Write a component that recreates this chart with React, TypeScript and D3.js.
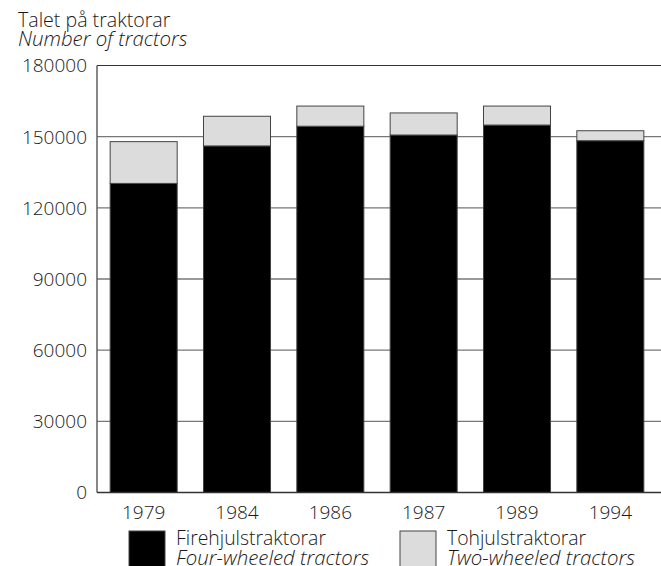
import React from "react";
import * as d3 from "d3";

const years = ["1979", "1984", "1986", "1987", "1989", "1994"];
const fourWheeled = [130300, 146100, 154400, 150700, 154900, 148300];
const twoWheeled = [17600, 12500, 8500, 9300, 8000, 4200];
const yTicks = [0, 30000, 60000, 90000, 120000, 150000, 180000];
const titleNo = "Talet på traktorar";
const titleEn = "Number of tractors";
const legendNo = ["Firehjulstraktorar", "Tohjulstraktorar"];
const legendEn = ["Four-wheeled tractors", "Two-wheeled tractors"];

const W = 661;
const H = 566;
const FONT = "'Open Sans', 'Noto Sans', sans-serif";

export default function App() {
  const x = d3
    .scaleBand<string>()
    .domain(years)
    .range([97, 657])
    .paddingInner(0.282)
    .paddingOuter(0.141);
  const y = d3.scaleLinear().domain([0, 180000]).range([492.5, 65.5]);

  const rows = years.map((yr, i) => ({ year: yr, four: fourWheeled[i], two: twoWheeled[i] }));
  const stack = d3.stack<any>().keys(["four", "two"])(rows);
  const fills = ["#000000", "#dcdcdc"];

  return (
    <svg
      width={W}
      height={H}
      style={{ position: "absolute", left: 0, top: 0, background: "#fff" }}
      fontFamily={FONT}
      fontWeight={300}
    >
      <rect x={0} y={0} width={W} height={H} fill="#fff" />
      <text x={18} y={26.5} fontSize={19.6} fill="#1a1a1a">{titleNo}</text>
      <text x={18} y={46} fontSize={20.4} fontStyle="italic" fill="#1a1a1a">{titleEn}</text>

      {yTicks.map((t) => (
        <g key={t}>
          {t > 0 && (
            <line
              x1={97}
              x2={661}
              y1={y(t)}
              y2={y(t)}
              stroke={t === 180000 ? "#333" : "#777"}
              strokeWidth={t === 180000 ? 1.2 : 1.4}
            />
          )}
          <text
            x={87}
            y={y(t)}
            dy="0.36em"
            textAnchor="end"
            fontSize={19}
            fill="#1a1a1a"
          >
            {t}
          </text>
        </g>
      ))}

      {stack.map((layer, li) => (
        <g key={li}>
          {layer.map((d: any, i: number) => (
            <rect
              key={i}
              x={x(years[i])}
              width={x.bandwidth()}
              y={y(d[1])}
              height={y(d[0]) - y(d[1])}
              fill={fills[li]}
              stroke="#444"
              strokeWidth={1}
            />
          ))}
        </g>
      ))}

      <line x1={97} x2={97} y1={65.5} y2={492.5} stroke="#555" strokeWidth={1.4} />
      <line x1={97} x2={661} y1={492.5} y2={492.5} stroke="#333" strokeWidth={1.4} />

      {years.map((yr) => (
        <text
          key={yr}
          x={(x(yr) as number) + x.bandwidth() / 2}
          y={518.5}
          textAnchor="middle"
          fontSize={19}
          fill="#1a1a1a"
        >
          {yr}
        </text>
      ))}

      {[0, 1].map((i) => {
        const sx = i === 0 ? 129 : 400;
        return (
          <g key={i}>
            <rect
              x={sx}
              y={531}
              width={36}
              height={36}
              fill={fills[i]}
              stroke="#444"
              strokeWidth={1}
            />
            <text x={sx + 47} y={545} fontSize={19.4} fill="#1a1a1a">{legendNo[i]}</text>
            <text x={sx + 47} y={564.5} fontSize={20.4} fontStyle="italic" fill="#1a1a1a">{legendEn[i]}</text>
          </g>
        );
      })}
    </svg>
  );
}
